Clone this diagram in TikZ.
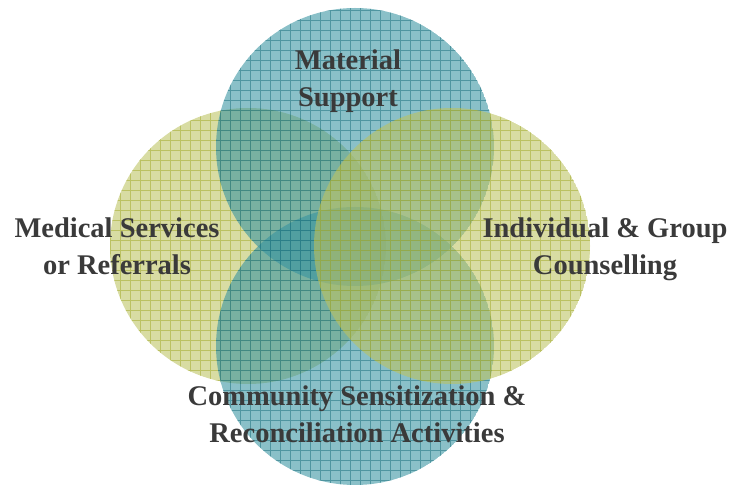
\documentclass[tikz,border=0pt]{standalone}
\usepackage{fontspec}
\setmainfont{Liberation Serif}
\definecolor{tealfill}{HTML}{3593A0}
\definecolor{tealline}{HTML}{1F7380}
\definecolor{olivefill}{HTML}{BCC260}
\definecolor{oliveline}{HTML}{A3AD2E}
\definecolor{txt}{HTML}{3A3A3A}
\newcommand\gridcirc[5]{%
  \begin{scope}
    \clip (#1,#2) circle (#3);
    \fill[#4, fill opacity=0.58] (#1,#2) circle (#3);
    \draw[#5, draw opacity=0.55, line width=0.7pt, step=10pt] (#1-#3-10,#2-#3-10) grid (#1+#3+10,#2+#3+10);
  \end{scope}}
\tikzset{lbl/.style={text=txt, font=\fontsize{28.5}{37}\selectfont\bfseries, align=center}}
\begin{document}
\begin{tikzpicture}[x=1pt,y=-1pt]
\useasboundingbox (0,0) rectangle (729,486);
\gridcirc{248}{246}{138}{olivefill}{oliveline}
\gridcirc{355}{147}{139}{tealfill}{tealline}
\gridcirc{355}{346}{139}{tealfill}{tealline}
\gridcirc{452}{246}{138}{olivefill}{oliveline}
\node[lbl] (mat) at (348,81) {Material\\Support};
\node[lbl] (med) at (117,246) {Medical Services\\or Referrals};
\node[lbl] (ind) at (605,249) {Individual \& Group\\Counselling};
\node[lbl] (com) at (357,414) {Community Sensitization \&\\Reconciliation Activities};
\end{tikzpicture}
\end{document}
